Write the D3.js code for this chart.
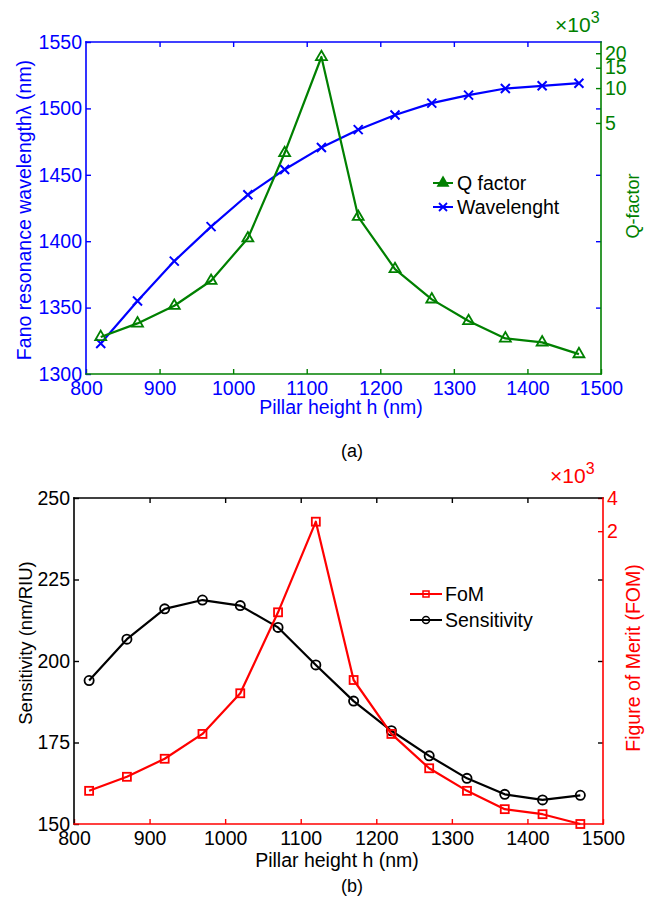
<!DOCTYPE html>
<html>
<head>
<meta charset="utf-8">
<script src="https://cdn.jsdelivr.net/npm/d3@7"></script>
<style>
  body { margin: 0; background: #fff; }
  svg { display: block; }
  text { font-family: "Liberation Sans", Arial, sans-serif; }
</style>
</head>
<body>
<svg id="fig" width="647" height="901"></svg>
<script>
// Pillar heights (nm) shared by both panels
const heights = [820, 870, 920, 970, 1020, 1070, 1120, 1170, 1220, 1270, 1320, 1370, 1420, 1470];

// Panel (a): Fano resonance wavelength (nm) and Q factor
const wavelength = [1323, 1355, 1385, 1411, 1435, 1454, 1470.5, 1484, 1495, 1504, 1510, 1515, 1517, 1519];
const qFactor = [71, 93, 132, 217, 505, 2750, 18550, 774, 274, 150, 97.5, 69, 63.8, 50.5];

// Panel (b): sensitivity (nm/RIU) and figure of merit
const sensitivity = [194, 206.7, 216, 218.7, 217, 210.3, 198.8, 187.7, 178.6, 170.9, 164, 159.1, 157.4, 158.8];
const fom = [8.8, 11.8, 17.2, 28.9, 67.6, 367, 2438, 89.2, 28.9, 14.1, 8.8, 6.0, 5.4, 4.4];

// Tick values
const xTicks = [800, 900, 1000, 1100, 1200, 1300, 1400, 1500];
const wlTicks = [1300, 1350, 1400, 1450, 1500, 1550];
const qTicks = [5000, 10000, 15000, 20000];
const sensTicks = [150, 175, 200, 225, 250];
const fomTicks = [2000, 4000];

const BLUE = "#0000ff", GREEN = "#008000", RED = "#ff0000", BLACK = "#000000";
const FS = 19.5;
const plain = d3.format("d");

const svg = d3.select("#fig");

function spine(g, x1, y1, x2, y2, color) {
  g.append("line").attr("x1", x1).attr("y1", y1).attr("x2", x2).attr("y2", y2)
    .attr("stroke", color).attr("stroke-width", 1.6).attr("stroke-linecap", "square");
}

function styleAxis(sel, color, labels) {
  sel.select(".domain").remove();
  sel.selectAll(".tick line").attr("stroke", color).attr("stroke-width", 1.4);
  sel.selectAll(".tick text").attr("fill", color).attr("font-size", FS)
    .attr("font-family", "Liberation Sans, Arial, sans-serif");
  if (!labels) sel.selectAll(".tick text").remove();
}

function drawPanel(cfg) {
  const { L, R, T, B } = cfg;
  const g = svg.append("g");
  const x = d3.scaleLinear().domain([800, 1500]).range([L, R]);
  const yL = d3.scaleLinear().domain(cfg.leftDomain).range([B, T]);
  const yR = d3.scaleLog().domain(cfg.rightDomain).range([B, T]);

  // left-axis ticks (labelled) and mirrored on the right
  g.append("g").attr("transform", `translate(${L},0)`)
    .call(d3.axisLeft(yL).tickValues(cfg.leftTicks).tickFormat(plain).tickSize(-5).tickSizeOuter(0).tickPadding(4))
    .call(s => styleAxis(s, cfg.leftColor, true));
  g.append("g").attr("transform", `translate(${R},0)`)
    .call(d3.axisRight(yL).tickValues(cfg.leftTicks.slice(1, -1)).tickSize(-5).tickSizeOuter(0))
    .call(s => styleAxis(s, cfg.leftColor, false));
  // top ticks
  g.append("g").attr("transform", `translate(0,${T})`)
    .call(d3.axisTop(x).tickValues(xTicks.slice(1, -1)).tickSize(-5).tickSizeOuter(0))
    .call(s => styleAxis(s, cfg.leftColor, false));
  // bottom ticks (second axes colour) with labels in the first axes colour
  g.append("g").attr("transform", `translate(0,${B})`)
    .call(d3.axisBottom(x).tickValues(xTicks).tickFormat(plain).tickSize(-5).tickSizeOuter(0).tickPadding(7))
    .call(s => styleAxis(s, cfg.rightColor, true))
    .call(s => s.selectAll(".tick text").attr("fill", cfg.leftColor));
  // right log axis
  g.append("g").attr("transform", `translate(${R},0)`)
    .call(d3.axisRight(yR).tickValues(cfg.rightTicks).tickSize(-5).tickSizeOuter(0).tickPadding(4)
      .tickFormat(d => plain(d / 1000)))
    .call(s => styleAxis(s, cfg.rightColor, true));

  // frame
  spine(g, L, T, R, T, cfg.leftColor);
  spine(g, L, T, L, B, cfg.leftColor);
  spine(g, L, B, R, B, cfg.rightColor);
  spine(g, R, T, R, B, cfg.rightColor);

  // x10^3 multiplier
  const m = g.append("text").attr("x", cfg.mult[0]).attr("y", cfg.mult[1])
    .attr("fill", cfg.rightColor).attr("font-size", 21);
  m.append("tspan").text("×10");
  m.append("tspan").text("3").attr("font-size", 16).attr("dy", -9);

  // axis titles
  g.append("text").attr("transform", `translate(${cfg.leftTitlePos[0]},${cfg.leftTitlePos[1]}) rotate(-90)`)
    .attr("text-anchor", "middle").attr("fill", cfg.leftColor).attr("font-size", cfg.leftTitleSize)
    .text(cfg.leftTitle);
  g.append("text").attr("transform", `translate(${cfg.rightTitlePos[0]},${cfg.rightTitlePos[1]}) rotate(-90)`)
    .attr("text-anchor", "middle").attr("fill", cfg.rightColor).attr("font-size", cfg.rightTitleSize)
    .text(cfg.rightTitle);
  g.append("text").attr("x", cfg.xTitlePos[0]).attr("y", cfg.xTitlePos[1])
    .attr("text-anchor", "middle").attr("fill", cfg.leftColor).attr("font-size", 19.5)
    .text("Pillar height h (nm)");
  g.append("text").attr("x", 352).attr("y", cfg.captionY).attr("text-anchor", "middle")
    .attr("font-family", "Liberation Serif, Times New Roman, serif").attr("font-size", 18)
    .attr("fill", BLACK).text(cfg.caption);

  return { g, x, yL, yR };
}

function drawSeries(g, pts, color, marker) {
  g.append("path").datum(pts)
    .attr("d", d3.line().x(d => d[0]).y(d => d[1]))
    .attr("fill", "none").attr("stroke", color).attr("stroke-width", 2.2).attr("stroke-linejoin", "round");
  const mk = g.append("g");
  pts.forEach(p => marker(mk, p[0], p[1], color));
}

const triangle = (g, cx, cy, c, filled) => g.append("path")
  .attr("d", d3.symbol().type(d3.symbolTriangle).size(filled ? 42 : 52)())
  .attr("transform", `translate(${cx},${cy})`)
  .attr("fill", filled ? c : "none").attr("stroke", c).attr("stroke-width", 1.8);
const cross = (g, cx, cy, c) => g.append("path")
  .attr("d", "M-4.5,-4.5L4.5,4.5M-4.5,4.5L4.5,-4.5")
  .attr("transform", `translate(${cx},${cy})`)
  .attr("fill", "none").attr("stroke", c).attr("stroke-width", 2);
const asterisk = (g, cx, cy, c) => g.append("path")
  .attr("d", "M-4,-4L4,4M-4,4L4,-4M-5,0L5,0")
  .attr("transform", `translate(${cx},${cy})`)
  .attr("fill", "none").attr("stroke", c).attr("stroke-width", 1.8);
const circle = (g, cx, cy, c) => g.append("circle").attr("cx", cx).attr("cy", cy).attr("r", 4.6)
  .attr("fill", "none").attr("stroke", c).attr("stroke-width", 1.8);
const square = (g, cx, cy, c) => g.append("rect").attr("x", cx - 4).attr("y", cy - 4)
  .attr("width", 8).attr("height", 8).attr("fill", "none").attr("stroke", c).attr("stroke-width", 1.8);

// ---------- Panel (a) ----------
const a = drawPanel({
  L: 86, R: 601, T: 42, B: 374,
  leftDomain: [1300, 1550], rightDomain: [34, 25000],
  leftTicks: wlTicks, rightTicks: qTicks,
  leftColor: BLUE, rightColor: GREEN,
  mult: [555, 32],
  leftTitle: "Fano resonance wavelengthλ (nm)", leftTitlePos: [31, 210], leftTitleSize: 19.5,
  rightTitle: "Q-factor", rightTitlePos: [639, 206], rightTitleSize: 18,
  xTitlePos: [341, 414], caption: "(a)", captionY: 457
});
drawSeries(a.g, heights.map((h, i) => [a.x(h), a.yL(wavelength[i])]), BLUE, cross);
drawSeries(a.g, heights.map((h, i) => [a.x(h), a.yR(qFactor[i])]), GREEN, (g, x, y, c) => triangle(g, x, y, c, false));

// legend (a)
{
  const lg = a.g.append("g");
  const items = [
    { label: "Q factor", color: GREEN, mk: (g, x, y, c) => triangle(g, x, y, c, true), y: 183 },
    { label: "Wavelenght", color: BLUE, mk: asterisk, y: 207 }
  ];
  items.forEach(it => {
    lg.append("line").attr("x1", 433).attr("x2", 453).attr("y1", it.y).attr("y2", it.y)
      .attr("stroke", it.color).attr("stroke-width", 2);
    it.mk(lg, 443, it.y, it.color);
    lg.append("text").attr("x", 457).attr("y", it.y + 7).attr("font-size", FS).attr("fill", BLACK).text(it.label);
  });
}

// ---------- Panel (b) ----------
const b = drawPanel({
  L: 74, R: 603, T: 498, B: 824,
  leftDomain: [150, 250], rightDomain: [4.4, 4000],
  leftTicks: sensTicks, rightTicks: fomTicks,
  leftColor: BLACK, rightColor: RED,
  mult: [550, 483],
  leftTitle: "Sensitivity (nm/RIU)", leftTitlePos: [32, 643], leftTitleSize: 18.5,
  rightTitle: "Figure of Merit (FOM)", rightTitlePos: [640, 658], rightTitleSize: 19.5,
  xTitlePos: [337, 867], caption: "(b)", captionY: 892
});
drawSeries(b.g, heights.map((h, i) => [b.x(h), b.yL(sensitivity[i])]), BLACK, circle);
drawSeries(b.g, heights.map((h, i) => [b.x(h), b.yR(fom[i])]), RED, square);

// legend (b)
{
  const lg = b.g.append("g");
  const items = [
    { label: "FoM", color: RED, mk: (g, x, y, c) => g.append("rect").attr("x", x - 3).attr("y", y - 3)
        .attr("width", 6).attr("height", 6).attr("fill", "none").attr("stroke", c).attr("stroke-width", 1.5), y: 594 },
    { label: "Sensitivity", color: BLACK, mk: (g, x, y, c) => g.append("circle").attr("cx", x).attr("cy", y)
        .attr("r", 3.5).attr("fill", "none").attr("stroke", c).attr("stroke-width", 1.5), y: 620 }
  ];
  items.forEach(it => {
    lg.append("line").attr("x1", 410).attr("x2", 442).attr("y1", it.y).attr("y2", it.y)
      .attr("stroke", it.color).attr("stroke-width", 2);
    it.mk(lg, 426, it.y, it.color);
    lg.append("text").attr("x", 445).attr("y", it.y + 7).attr("font-size", FS).attr("fill", BLACK).text(it.label);
  });
}
</script>
</body>
</html>
